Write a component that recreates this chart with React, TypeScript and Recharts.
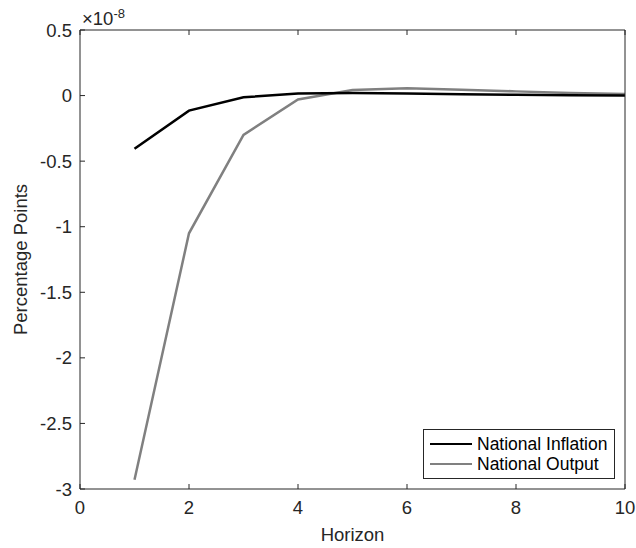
import { Line, LineChart, XAxis, YAxis } from 'recharts'

// values in units of 1e-8
const horizon = [1, 2, 3, 4, 5, 6, 7, 8, 9, 10]
const inflation = [-0.405, -0.115, -0.013, 0.015, 0.02, 0.016, 0.011, 0.006, 0.002, 0.0]
const output = [-2.93, -1.05, -0.3, -0.03, 0.042, 0.055, 0.045, 0.032, 0.02, 0.012]
const xTicks = [0, 2, 4, 6, 8, 10]
const yTicks = [-3, -2.5, -2, -1.5, -1, -0.5, 0, 0.5]

const seriesNames = { inflation: 'National Inflation', output: 'National Output' }

const data = horizon.map((h, i) => ({ h, inflation: inflation[i], output: output[i] }))

const axisColor = '#262626'
const font = '"Liberation Sans", Arial, Helvetica, sans-serif'
const fs = 18.5

function LegendBox() {
  const row = (color: string, label: string) => (
    <div style={{ display: 'flex', alignItems: 'center', height: 20 }}>
      <div style={{ width: 42, height: 0, borderTop: `2.5px solid ${color}`, marginRight: 5 }} />
      <span>{label}</span>
    </div>
  )
  return (
    <div
      style={{
        position: 'absolute',
        left: 423,
        top: 429,
        border: `1px solid ${axisColor}`,
        background: '#fff',
        padding: '4px 6px 4px 6px',
        fontFamily: font,
        fontSize: 17.5,
        color: '#000',
        width: 192,
        height: 50,
        boxSizing: 'border-box',
        whiteSpace: 'nowrap',
      }}
    >
      {row('#000000', seriesNames.inflation)}
      {row('#808080', seriesNames.output)}
    </div>
  )
}

export default function App() {
  return (
    <div style={{ position: 'absolute', left: 0, top: 0, width: 636, height: 548, background: '#fff' }}>
      <LineChart width={636} height={548} data={data} margin={{ top: 29, right: 10, left: 30, bottom: 29 }}>
        <XAxis
          xAxisId="b"
          dataKey="h"
          type="number"
          domain={[0, 10]}
          ticks={xTicks}
          height={30}
          stroke={axisColor}
          tickSize={-5}
          tickMargin={17}
          tick={{ fill: axisColor, fontSize: fs, fontFamily: font }}
          label={{ value: 'Horizon', position: 'insideBottom', offset: -22, fill: axisColor, fontSize: fs, fontFamily: font }}
        />
        <XAxis
          xAxisId="t"
          orientation="top"
          dataKey="h"
          type="number"
          domain={[0, 10]}
          ticks={xTicks}
          height={1}
          stroke={axisColor}
          tickSize={-5}
          tickFormatter={() => ''}
        />
        <YAxis
          yAxisId="l"
          type="number"
          domain={[-3, 0.5]}
          ticks={yTicks}
          width={50}
          stroke={axisColor}
          tickSize={-5}
          tickMargin={13}
          tick={{ fill: axisColor, fontSize: fs, fontFamily: font }}
          label={{ value: 'Percentage Points', angle: -90, position: 'insideLeft', offset: -10, fill: axisColor, fontSize: fs, fontFamily: font, style: { textAnchor: 'middle' } }}
        />
        <YAxis
          yAxisId="r"
          orientation="right"
          type="number"
          domain={[-3, 0.5]}
          ticks={yTicks}
          width={1}
          stroke={axisColor}
          tickSize={-5}
          tickFormatter={() => ''}
        />
        <Line
          xAxisId="b"
          yAxisId="l"
          dataKey="output"
          name={seriesNames.output}
          stroke="#808080"
          strokeWidth={2.5}
          dot={false}
          isAnimationActive={false}
        />
        <Line
          xAxisId="b"
          yAxisId="l"
          dataKey="inflation"
          name={seriesNames.inflation}
          stroke="#000000"
          strokeWidth={2.5}
          dot={false}
          isAnimationActive={false}
        />
        <text x={82} y={25} fill={axisColor} fontFamily={font} fontSize={fs}>
          ×10<tspan dy={-7} fontSize={13}>-8</tspan>
        </text>
      </LineChart>
      <LegendBox />
    </div>
  )
}
